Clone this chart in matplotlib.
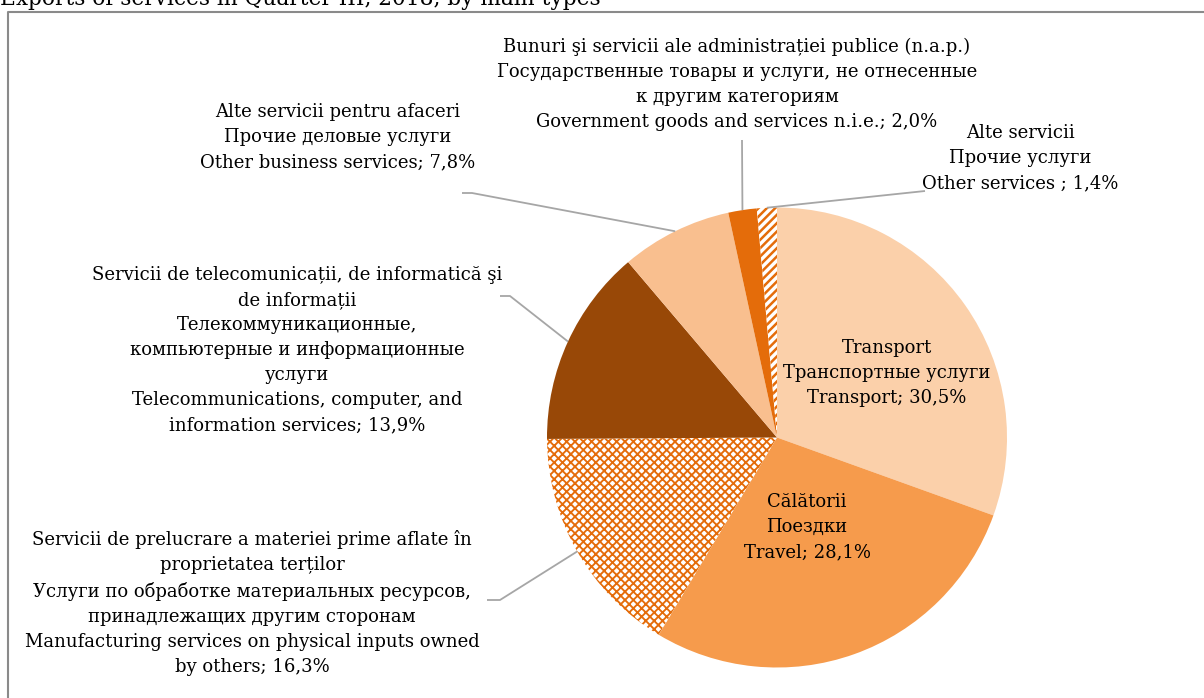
import numpy as np
import matplotlib.pyplot as plt

W, H = 1204, 698

title = 'Exports of services in Quarter III, 2018, by main types'

# slices, clockwise from the top
shares = [30.5, 28.1, 16.3, 13.9, 7.8, 2.0, 1.4]

labels_text = [
    'Transport\nТранспортные услуги\nTransport',
    'Călătorii\nПоездки\nTravel',
    'Servicii de prelucrare a materiei prime aflate în\nproprietatea terților\n'
    'Услуги по обработке материальных ресурсов,\nпринадлежащих другим сторонам\n'
    'Manufacturing services on physical inputs owned\nby others',
    'Servicii de telecomunicații, de informatică şi\nde informații\nТелекоммуникационные,\n'
    'компьютерные и информационные\nуслуги\nTelecommunications, computer, and\ninformation services',
    'Alte servicii pentru afaceri\nПрочие деловые услуги\nOther business services',
    'Bunuri şi servicii ale administrației publice (n.a.p.)\nГосударственные товары и услуги, не отнесенные\n'
    'к другим категориям\nGovernment goods and services n.i.e.',
    'Alte servicii\nПрочие услуги\nOther services ',
]

colors = ['#FBD0AA', '#F69B4C', 'white', '#984807', '#F9BF8F', '#E46C0A', 'white']
hatches = [None, None, 'xxxx', None, None, None, '////']

# layout (pixels, y down)
cx, cy, R = 777, 437.5, 230
label_xy = [(887, 373), (807, 527), (252, 603), (297, 350), (338, 137), (737, 84), (1020, 158)]
# leader start points (None = label sits inside the slice)
leader_from = [None, None, [(487, 600), (500, 600)], [(500, 296), (510, 296)],
               [(462, 193), (472, 193)], [(742, 140)], [(925, 191)]]

plt.rcParams['hatch.linewidth'] = 1.35
plt.rcParams['font.family'] = ['DejaVu Serif']

fig = plt.figure(figsize=(W / 100, H / 100), dpi=100)
ax = fig.add_axes([0, 0, 1, 1])

wedges, _ = ax.pie(shares, colors=colors, startangle=90, counterclock=False,
                   center=(cx, H - cy), radius=R, wedgeprops=dict(linewidth=0))
for w, h in zip(wedges, hatches):
    if h:
        w.set_hatch(h)
        w.set_edgecolor('#E46C0A')
        w.set_linewidth(0)
        if h.startswith('/') and hasattr(w, 'set_hatch_linewidth'):
            w.set_hatch_linewidth(1.8)

ax.set_xlim(0, W)
ax.set_ylim(0, H)
ax.set_aspect('auto')
ax.axis('off')

for i, w in enumerate(wedges):
    txt = labels_text[i] + '; ' + f'{shares[i]:.1f}'.replace('.', ',') + '%'
    lx, ly = label_xy[i]
    ax.text(lx, H - ly, txt, ha='center', va='center', multialignment='center',
            fontsize=13, linespacing=1.5, color='black')
    if leader_from[i]:
        mid = np.deg2rad((w.theta1 + w.theta2) / 2)
        px = [p[0] for p in leader_from[i]] + [cx + R * np.cos(mid)]
        py = [H - p[1] for p in leader_from[i]] + [H - cy + R * np.sin(mid)]
        ax.plot(px, py, color='#A6A6A6', lw=1.3, solid_capstyle='butt')

# chart frame and cut-off title
ax.plot([8, 8, W + 5], [-5, H - 12, H - 12], color='#8A8A8A', lw=1.5)
ax.text(0, H - 5, title, ha='left', va='baseline', fontsize=15.6, color='black')

fig.savefig('out.png', dpi=100)
